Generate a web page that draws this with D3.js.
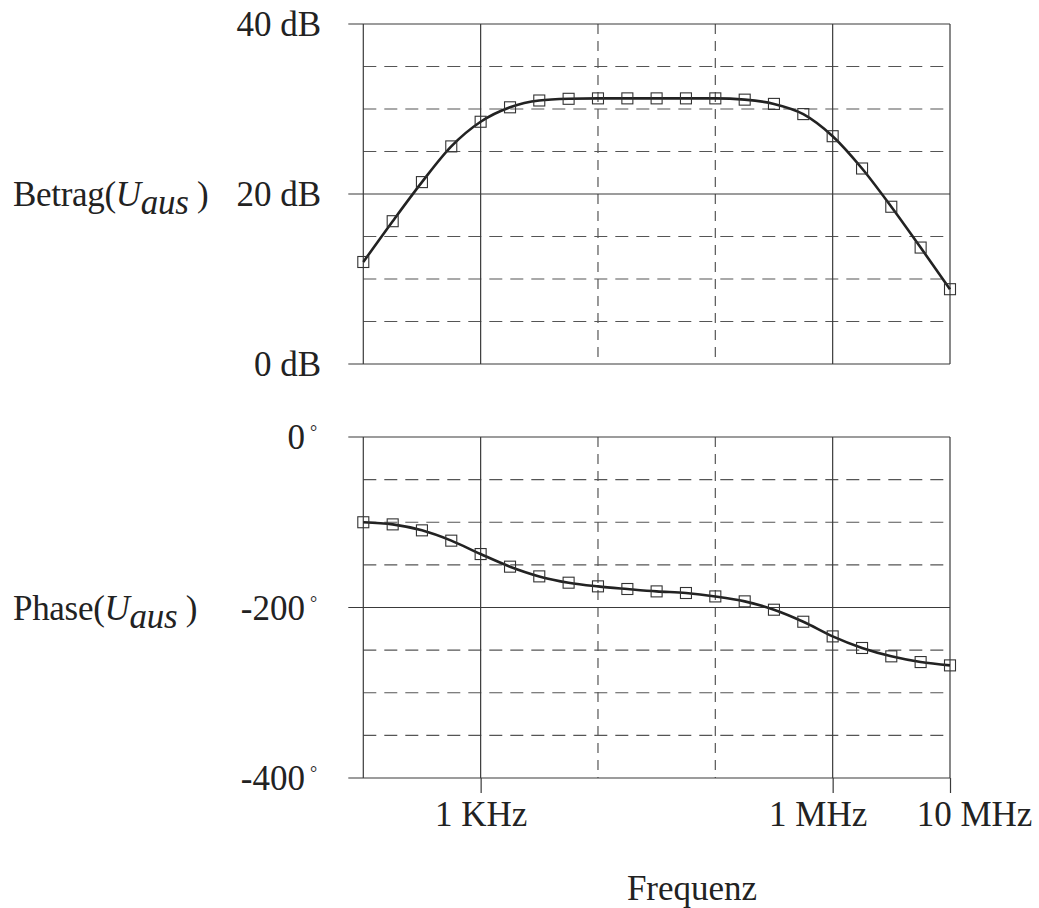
<!DOCTYPE html>
<html lang="en">
<head>
    <meta charset="UTF-8">
    <title>Bode plot</title>
    <script src="https://cdn.jsdelivr.net/npm/d3@7"></script>
    <style>
        body{
            margin: 0;
            background: #fff;
        }
        svg{
            display: block;
            font-family: "Liberation Serif", serif;
        }
        .grid-solid{
            stroke: #3a3a3a;
            stroke-width: 1.2px;
        }
        .grid-dash{
            stroke: #555;
            stroke-width: 1.2px;
            stroke-dasharray: 13 8;
        }
        .grid-vdash{
            stroke: #555;
            stroke-width: 1.2px;
            stroke-dasharray: 10 7;
        }
        .curve{
            stroke: #222;
            stroke-width: 2.6px;
            fill: none;
        }
        .marker{
            stroke: #333;
            stroke-width: 1.1px;
            fill: none;
        }
        .lbl{
            font-size: 35px;
            fill: #222;
        }
    </style>
</head>
<body>
<script>
    // data
    const freqs = [100, 178, 316, 562, 1000, 1780, 3160, 5620, 1e4, 17800, 31600, 56200,
                   1e5, 178000, 316000, 562000, 1e6, 1.78e6, 3.16e6, 5.62e6, 1e7];
    const magnitude = [12.0, 16.8, 21.4, 25.6, 28.5, 30.2, 31.0, 31.2, 31.25, 31.25, 31.25,
                       31.25, 31.25, 31.1, 30.6, 29.4, 26.8, 23.0, 18.5, 13.7, 8.8];
    const phase = [-100, -102.5, -109.5, -121.6, -137.3, -152.1, -163.5, -170.9, -175.2, -178.3,
                   -181.1, -183, -187, -192.8, -202.6, -216.7, -233.9, -247.5, -257.3, -264, -267.9];

    const xTickValues = [1e3, 1e6, 1e7];
    const xTickLabels = ["1 KHz", "1 MHz", "10 MHz"];
    const magTicks = [0, 20, 40];
    const magTickLabels = ["0 dB", "20 dB", "40 dB"];
    const phaseTicks = [0, -200, -400];
    const phaseTickLabels = ["0", "-200", "-400"];

    const width = 1039, height = 908;
    const svg = d3.select("body").append("svg")
        .attr("width", width).attr("height", height);

    // scales
    const xScale = d3.scaleLog().domain([100, 1e7]).range([363.3, 950]);
    const yMag = d3.scaleLinear().domain([0, 40]).range([364, 24]);
    const yPh = d3.scaleLinear().domain([-400, 0]).range([778, 437]);

    const dashedX = [1e4, 1e5];
    const solidX = [100, 1e3, 1e6, 1e7];

    function panel(yScale, majors, minors, values) {
        const g = svg.append("g");
        const [y0, y1] = yScale.range();
        // horizontal dashed
        g.selectAll(".hd").data(minors).enter().append("line")
            .attr("class", "grid-dash")
            .attr("x1", xScale(100)).attr("x2", xScale(1e7))
            .attr("y1", d => yScale(d)).attr("y2", d => yScale(d));
        // vertical dashed
        g.selectAll(".vd").data(dashedX).enter().append("line")
            .attr("class", "grid-vdash")
            .attr("x1", d => xScale(d)).attr("x2", d => xScale(d))
            .attr("y1", y1).attr("y2", y0);
        // vertical solid
        g.selectAll(".vs").data(solidX).enter().append("line")
            .attr("class", "grid-solid")
            .attr("x1", d => xScale(d)).attr("x2", d => xScale(d))
            .attr("y1", y1).attr("y2", y0);
        // horizontal solid with tick to the left
        g.selectAll(".hs").data(majors).enter().append("line")
            .attr("class", "grid-solid")
            .attr("x1", xScale(100) - 15).attr("x2", xScale(1e7))
            .attr("y1", d => yScale(d)).attr("y2", d => yScale(d));

        const line = d3.line()
            .x((d, i) => xScale(freqs[i]))
            .y(d => yScale(d))
            .curve(d3.curveMonotoneX);
        g.append("path").datum(values).attr("class", "curve").attr("d", line);

        g.selectAll(".marker").data(values).enter().append("rect")
            .attr("class", "marker")
            .attr("x", (d, i) => xScale(freqs[i]) - 5.5)
            .attr("y", d => yScale(d) - 5.5)
            .attr("width", 11).attr("height", 11);
        return g;
    }

    panel(yMag, magTicks, [5, 10, 15, 25, 30, 35], magnitude);
    panel(yPh, phaseTicks, [-50, -100, -150, -250, -300, -350], phase);

    // magnitude tick labels
    svg.selectAll(".maglbl").data(magTicks).enter().append("text")
        .attr("class", "lbl")
        .attr("x", 321).attr("y", d => yMag(d) + 12)
        .attr("text-anchor", "end")
        .text((d, i) => magTickLabels[i]);

    // phase tick labels with degree sign
    svg.selectAll(".phlbl").data(phaseTicks).enter().append("text")
        .attr("class", "lbl")
        .attr("x", 305).attr("y", d => yPh(d) + 12)
        .attr("text-anchor", "end")
        .text((d, i) => phaseTickLabels[i]);
    svg.selectAll(".deg").data(phaseTicks).enter().append("text")
        .attr("x", 310).attr("y", d => yPh(d) + 1)
        .style("font-size", "18px").style("fill", "#222")
        .text("\u00B0");

    // bottom axis
    const xAxis = d3.axisBottom(xScale)
        .tickValues(xTickValues)
        .tickSize(15)
        .tickFormat((d, i) => xTickLabels[i]);
    const ax = svg.append("g")
        .attr("transform", `translate(0, ${yPh(-400)})`)
        .call(xAxis);
    ax.select(".domain").remove();
    ax.selectAll(".tick line").attr("stroke", "#3a3a3a").attr("stroke-width", 1.2);
    const labelShift = [0, -15, 24];
    ax.selectAll(".tick text")
        .attr("class", "lbl")
        .attr("y", 0).attr("dy", "48px")
        .attr("dx", (d, i) => labelShift[i])
        .style("font-family", "Liberation Serif");

    // axis titles
    function title(y, word) {
        const t = svg.append("text").attr("class", "lbl").attr("x", 13).attr("y", y)
            .style("letter-spacing", "-0.3px");
        t.append("tspan").text(word + "(");
        t.append("tspan").style("font-style", "italic").text("U");
        t.append("tspan").style("font-style", "italic").attr("dy", 8).text("aus");
        t.append("tspan").attr("dy", -8).text(" )");
    }
    title(206, "Betrag");
    title(620, "Phase");

    svg.append("text").attr("class", "lbl")
        .attr("x", 692).attr("y", 900)
        .attr("text-anchor", "middle")
        .text("Frequenz");
</script>
</body>
</html>
